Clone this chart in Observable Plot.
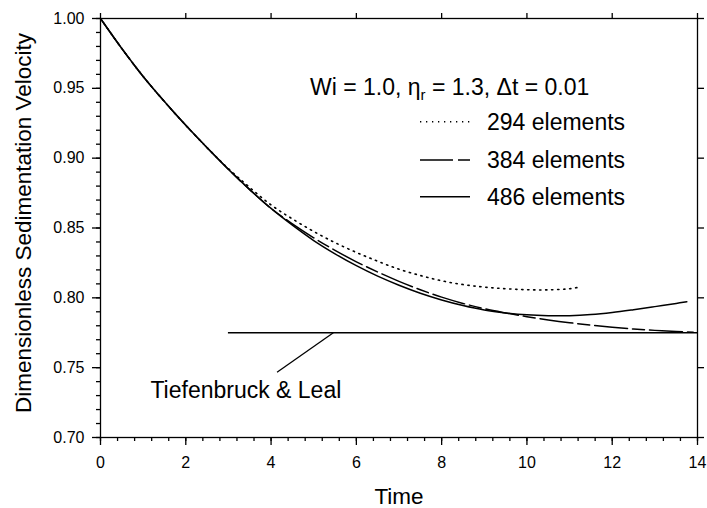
<!DOCTYPE html>
<html><head><meta charset="utf-8">
<script src="https://cdn.jsdelivr.net/npm/d3@7"></script>
<script src="https://cdn.jsdelivr.net/npm/@observablehq/plot@0.6"></script>
<style>
body{margin:0;background:#fff}
svg{font-family:"Liberation Sans",Arial,Helvetica,sans-serif}
</style>
</head><body><div id="chart"></div>
<script>
// ---- data ----
const seriesNames = ["294 elements", "384 elements", "486 elements"];
const t294 = [0,0.5,1,1.5,2,2.5,3,3.5,4,4.5,5,5.5,6,6.5,7,7.5,8,8.5,9,9.5,10,10.5,11,11.2];
const v294 = [1.000,0.9785,0.9585,0.9405,0.9235,0.9075,0.8925,0.8790,0.8665,0.8565,0.8475,0.8395,0.8325,0.8262,0.8205,0.8160,0.8122,0.8095,0.8077,0.8065,0.8058,0.8057,0.8065,0.8075];
const t384 = [0,0.5,1,1.5,2,2.5,3,3.5,4,4.5,5,5.5,6,6.5,7,7.5,8,8.5,9,9.5,10,10.5,11,11.5,12,12.5,13,13.5,13.9];
const v384 = [1.000,0.9785,0.9585,0.9405,0.9235,0.9075,0.8920,0.8775,0.8640,0.8530,0.8430,0.8340,0.8258,0.8185,0.8118,0.8058,0.8005,0.7960,0.7922,0.7892,0.7865,0.7842,0.7822,0.7805,0.7790,0.7777,0.7767,0.7759,0.7754];
const t486 = [0,0.5,1,1.5,2,2.5,3,3.5,4,4.5,5,5.5,6,6.5,7,7.5,8,8.5,9,9.5,10,10.5,11,11.5,12,12.5,13,13.5,13.75];
const v486 = [1.000,0.9785,0.9585,0.9405,0.9235,0.9075,0.8920,0.8775,0.8640,0.8520,0.8410,0.8315,0.8230,0.8155,0.8090,0.8033,0.7985,0.7945,0.7913,0.7892,0.7878,0.7872,0.7872,0.7880,0.7895,0.7915,0.7937,0.7960,0.7972];

// Tiefenbruck & Leal reference value and its time span
const refLabel = "Tiefenbruck & Leal";
const refValue = [0.775];
const refSpan = [3, 14];
// annotation: label anchor and leader line (data coordinates)
const refLabelPos = [{t: 1.17, v: 0.7337}];
const refLeader = [{t1: 4.14, v1: 0.7467, t2: 5.46, v2: 0.775}];

const xTicks = [0,2,4,6,8,10,12,14];
const yTicks = [0.70,0.75,0.80,0.85,0.90,0.95,1.00];
const xMinor = d3.range(0, 14.0001, 0.4);
const yMinor = d3.range(70, 100.5, 1).map(d => d / 100);

const headerParts = ["Wi = 1.0, \u03B7", "r", " = 1.3, \u0394t = 0.01"];
const xLabel = "Time";
const yLabel = "Dimensionless Sedimentation Velocity";

// ---- build tables ----
const toRows = (ts, vs) => ts.map((t, i) => ({t, v: vs[i]}));
const rows294 = toRows(t294, v294);
const rows384 = toRows(t384, v384);
const rows486 = toRows(t486, v486);

const dashes = {"294 elements": "1.3,4.7", "384 elements": "33,5,12,5", "486 elements": null};

const blank = () => "";
const W = 1.3;

const plot = Plot.plot({
  width: 707,
  height: 508,
  marginLeft: 100,
  marginRight: 10,
  marginTop: 18,
  marginBottom: 71,
  style: {fontSize: "16px", color: "black", background: "white", overflow: "visible", fontFamily: '"Liberation Sans", Arial, sans-serif'},
  x: {domain: [0, 14]},
  y: {domain: [0.70, 1.00]},
  marks: [
    Plot.axisX(xMinor, {anchor: "bottom", tickSize: 4, tickFormat: blank, strokeWidth: W}),
    Plot.axisX(xTicks, {anchor: "bottom", tickSize: 8, tickPadding: 11, tickFormat: d => String(d), strokeWidth: W, label: null}),
    Plot.axisX(xTicks, {anchor: "top", tickSize: 6, tickFormat: blank, strokeWidth: W, label: null}),
    Plot.axisY(yMinor, {anchor: "left", tickSize: 4, tickFormat: blank, strokeWidth: W}),
    Plot.axisY(yTicks, {anchor: "left", tickSize: 8, tickPadding: 8, tickFormat: d3.format(".2f"), strokeWidth: W, label: null}),
    Plot.axisY(yTicks, {anchor: "right", tickSize: 6, tickFormat: blank, strokeWidth: W, label: null}),
    Plot.frame({stroke: "black", strokeWidth: W}),
    Plot.ruleY(refValue, {x1: refSpan[0], x2: refSpan[1], stroke: "black", strokeWidth: 1.4}),
    Plot.link(refLeader, {x1: "t1", y1: "v1", x2: "t2", y2: "v2", stroke: "black", strokeWidth: 1.3}),
    Plot.text(refLabelPos, {x: "t", y: "v", text: () => refLabel, textAnchor: "start", lineAnchor: "middle", fontSize: 23, fill: "black"}),
    Plot.line(rows294, {x: "t", y: "v", stroke: "black", strokeWidth: 1.6, strokeDasharray: dashes["294 elements"], curve: "catmull-rom"}),
    Plot.line(rows384, {x: "t", y: "v", stroke: "black", strokeWidth: 1.5, strokeDasharray: dashes["384 elements"], curve: "catmull-rom"}),
    Plot.line(rows486, {x: "t", y: "v", stroke: "black", strokeWidth: 1.5, curve: "catmull-rom"}),
    Plot.text([xLabel], {frameAnchor: "bottom", dy: 59, text: d => d, lineAnchor: "middle", fontSize: 22.5, fill: "black"}),
    Plot.text([yLabel], {frameAnchor: "left", dx: -77, dy: -5, rotate: -90, text: d => d, lineAnchor: "middle", textAnchor: "middle", fontSize: 22.5, fill: "black"})
  ]
});

// ---- legend (pixel layout) ----
const svg = d3.select(plot);
const lg = svg.append("g").attr("font-size", 23).attr("fill", "black").attr("text-anchor", "start");
const header = lg.append("text").attr("x", 310).attr("y", 94.5);
header.append("tspan").text(headerParts[0]);
header.append("tspan").attr("font-size", 15).attr("dy", 5).text(headerParts[1]);
header.append("tspan").attr("dy", -5).text(headerParts[2]);
const rowY = [121.7, 160, 196.7];
seriesNames.forEach((name, i) => {
  lg.append("line").attr("x1", 420).attr("x2", 470).attr("y1", rowY[i]).attr("y2", rowY[i])
    .attr("stroke", "black").attr("stroke-width", 1.5)
    .attr("stroke-dasharray", dashes[name]);
  lg.append("text").attr("x", 487).attr("y", rowY[i] + 8).text(name);
});

document.getElementById("chart").appendChild(plot);
</script>
</body></html>
